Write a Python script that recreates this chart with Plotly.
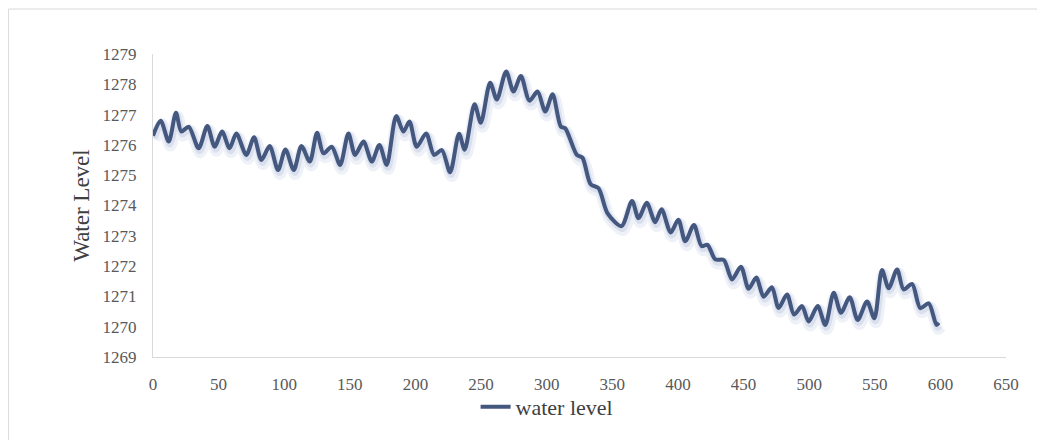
import plotly.graph_objects as go

# Time step (x) and water level (y), read at the peaks / troughs of the curve
time_steps = [0, 5.8, 12.0, 17.5, 21.6, 27.2, 34.8, 41.4, 47.0, 52.6, 58.4, 63.5, 71.1, 77.0,
              82.6, 88.9, 95.3, 100.9, 107.3, 113.1, 119.5, 125.0, 129.9, 136.2, 142.6, 148.9,
              154.0, 160.4, 166.7, 172.5, 178.1, 185.3, 190.8, 195.4, 201.0, 208.1, 214.2,
              220.1, 226.4, 233.2, 237.5, 245.0, 249.8, 256.9, 262.0, 269.1, 274.7, 280.3,
              286.9, 293.0, 298.9, 304.5, 310.8, 314.1, 323.0, 327.2, 333.5, 339.5, 346.4,
              357.0, 365.0, 370.0, 376.2, 382.7, 387.5, 394.5, 400.3, 405.6, 412.2, 418.0,
              422.5, 428.5, 435.0, 441.2, 448.0, 453.9, 459.7, 465.3, 471.6, 476.7, 483.1,
              488.5, 494.6, 499.6, 506.5, 512.3, 518.7, 524.3, 530.9, 537.0, 544.1, 549.7,
              555.5, 560.6, 567.0, 572.0, 578.4, 584.7, 591.1, 597.0, 598.8]
water_level = [1276.30, 1276.80, 1276.11, 1277.06, 1276.44, 1276.60, 1275.89, 1276.62, 1275.94,
               1276.44, 1275.89, 1276.38, 1275.67, 1276.25, 1275.50, 1275.96, 1275.17, 1275.85,
               1275.17, 1275.96, 1275.45, 1276.40, 1275.72, 1275.94, 1275.34, 1276.38, 1275.67,
               1276.11, 1275.45, 1276.00, 1275.34, 1276.95, 1276.44, 1276.77, 1275.94, 1276.38,
               1275.67, 1275.83, 1275.10, 1276.37, 1275.84, 1277.34, 1276.73, 1278.05, 1277.50,
               1278.42, 1277.76, 1278.27, 1277.46, 1277.76, 1277.10, 1277.67, 1276.60, 1276.55,
               1275.67, 1275.58, 1274.70, 1274.57, 1273.74, 1273.32, 1274.15, 1273.58, 1274.09,
               1273.45, 1273.88, 1273.11, 1273.53, 1272.82, 1273.36, 1272.66, 1272.70, 1272.22,
               1272.20, 1271.56, 1271.98, 1271.25, 1271.62, 1270.99, 1271.30, 1270.62, 1271.06,
               1270.40, 1270.68, 1270.17, 1270.68, 1270.06, 1271.12, 1270.46, 1270.97, 1270.22,
               1270.83, 1270.28, 1271.87, 1271.27, 1271.89, 1271.23, 1271.41, 1270.61, 1270.77,
               1270.06, 1270.13]

x_ticks = [0, 50, 100, 150, 200, 250, 300, 350, 400, 450, 500, 550, 600, 650]
y_ticks = list(range(1269, 1280))

series_name = "water level"
line_color = "#44577E"
font_family = "Liberation Serif, Times New Roman, serif"

fig = go.Figure()

# soft drop shadow (same data, slightly offset)
fig.add_trace(go.Scatter(
    x=[v + 1.2 for v in time_steps], y=[v - 0.13 for v in water_level],
    mode="lines", line=dict(color="rgba(70,100,170,0.09)", width=12, shape="spline", smoothing=0.8),
    showlegend=False, hoverinfo="skip"))
fig.add_trace(go.Scatter(
    x=[v + 0.8 for v in time_steps], y=[v - 0.08 for v in water_level],
    mode="lines", line=dict(color="rgba(70,100,170,0.12)", width=7, shape="spline", smoothing=0.8),
    showlegend=False, hoverinfo="skip"))

fig.add_trace(go.Scatter(
    x=time_steps, y=water_level, mode="lines", name=series_name,
    line=dict(color=line_color, width=4, shape="spline", smoothing=0.8)))

# page body has an 8px default margin, so the figure is sized/offset to compensate
fig.update_layout(
    width=1037, height=432,
    margin=dict(l=145, r=39, t=46, b=83),
    paper_bgcolor="white", plot_bgcolor="white",
    font=dict(family=font_family, color="#595959", size=17),
    showlegend=True,
    legend=dict(orientation="h", x=0.462, xanchor="center", y=-0.165, yanchor="middle",
                bgcolor="rgba(0,0,0,0)",
                font=dict(size=22, color="#404040", family=font_family)),
    xaxis=dict(range=[0, 650], tickvals=x_ticks, showgrid=False, zeroline=False,
               showline=True, linecolor="#D9D9D9", linewidth=1, ticks="",
               ticklabelstandoff=12, tickfont=dict(size=17, color="#595959"),
               automargin=False),
    yaxis=dict(range=[1269, 1279], tickvals=y_ticks, showgrid=False, zeroline=False,
               showline=True, linecolor="#D9D9D9", linewidth=1, ticks="",
               ticklabelstandoff=12, tickfont=dict(size=17, color="#595959"),
               automargin=False,
               title=dict(text="Water Level", font=dict(size=23, color="#404040", family=font_family),
                          standoff=6)),
    shapes=[dict(type="rect", xref="paper", yref="paper",
                 x0=-0.1695, x1=1.06, y0=-0.35, y1=1.1485,
                 line=dict(color="#D9D9D9", width=1), fillcolor="rgba(0,0,0,0)", layer="below")],
)

fig.write_html("out.html")
